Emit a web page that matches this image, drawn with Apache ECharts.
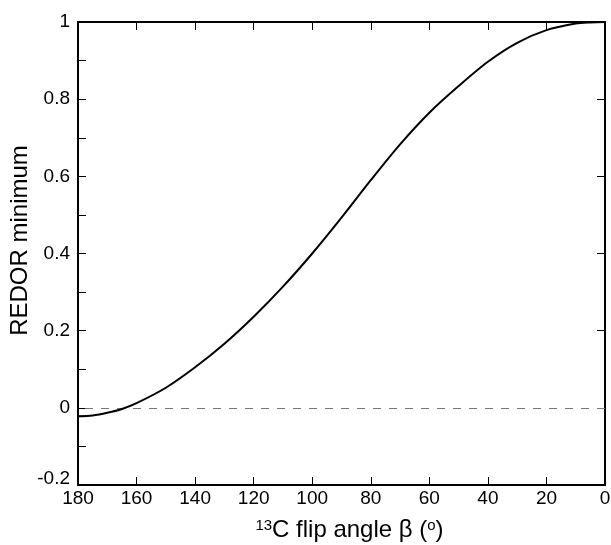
<!DOCTYPE html>
<html>
<head>
<meta charset="utf-8">
<script src="https://cdn.jsdelivr.net/npm/echarts@6/dist/echarts.min.js"></script>
<style>html,body{margin:0;padding:0;background:#fff}#c{width:611px;height:545px}</style>
</head>
<body>
<div id="c"></div>
<script>
var angles = [180,175,170,165,160,150,140,130,120,110,100,90,80,70,60,50,40,30,20,10,5,0];
var redorMin = [-0.022,-0.020,-0.013,-0.003,0.012,0.052,0.105,0.166,0.236,0.314,0.400,0.493,0.590,0.683,0.765,0.834,0.897,0.946,0.979,0.996,0.999,1.0];
var xTicks = [180,160,140,120,100,80,60,40,20,0];
var yTicks = [-0.2,0,0.2,0.4,0.6,0.8,1];
var zeroLine = 0;

var points = angles.map(function(a,i){return [a, redorMin[i]];});
var font = 'Liberation Sans, Arial, Helvetica, sans-serif';
var chart = echarts.init(document.getElementById('c'), null, {renderer:'canvas'});
chart.setOption({
  animation:false,
  grid:{left:78, right:6, top:22, bottom:60, containLabel:false, outerBoundsMode:'none'},
  xAxis:[{
    type:'value', min:0, max:180, interval:20, inverse:true,
    name:'{sup|13}{n|C flip angle β (}{sup|o}{n|)}', nameLocation:'middle', nameGap:33, nameMoveOverlap:false,
    nameTextStyle:{padding:[0,0,0,16], rich:{sup:{fontSize:15, fontFamily:font, color:'#000', verticalAlign:'top'}, n:{fontSize:24, fontFamily:font, color:'#000'}}},
    axisLine:{show:true, onZero:false, lineStyle:{color:'#000', width:2}},
    axisTick:{show:true, inside:true, length:8, lineStyle:{color:'#000', width:1}},
    axisLabel:{show:true, margin:4, fontSize:19, color:'#000', fontFamily:font,
      formatter:function(v){return xTicks.indexOf(v)>=0 ? String(v) : '';}},
    splitLine:{show:false}
  },{
    type:'value', min:0, max:180, interval:20, inverse:true, position:'top',
    axisLine:{show:true, onZero:false, lineStyle:{color:'#000', width:2}},
    axisTick:{show:true, inside:true, length:8, lineStyle:{color:'#000', width:1}},
    axisLabel:{show:false}, splitLine:{show:false}
  }],
  yAxis:[{
    type:'value', min:-0.2, max:1, interval:0.2,
    name:'REDOR minimum', nameLocation:'middle', nameGap:46, nameRotate:90, nameMoveOverlap:false,
    nameTextStyle:{fontSize:24, color:'#000', fontFamily:font, padding:[0,0,0,26]},
    axisLine:{show:true, onZero:false, lineStyle:{color:'#000', width:2}},
    axisTick:{show:true, inside:true, length:8, lineStyle:{color:'#000', width:1}},
    minorTick:{show:true, splitNumber:2, length:8, lineStyle:{color:'#000', width:1}},
    axisLabel:{show:true, margin:8, fontSize:19, color:'#000', fontFamily:font,
      rich:{low:{fontSize:19, color:'#000', fontFamily:font, padding:[0,0,12,0]}},
      formatter:function(v){var r=Math.round(v*10)/10; if(yTicks.indexOf(r)<0) return ''; return r===-0.2 ? '{low|'+r+'}' : String(r);}},
    splitLine:{show:false}
  },{
    type:'value', min:-0.2, max:1, interval:0.2, position:'right',
    axisLine:{show:true, onZero:false, lineStyle:{color:'#000', width:2}},
    axisTick:{show:true, inside:true, length:8, lineStyle:{color:'#000', width:1}},
    axisLabel:{show:false}, splitLine:{show:false}
  }],
  series:[{
    type:'line', data:points, smooth:0.3, showSymbol:false, symbol:'none',
    lineStyle:{color:'#000', width:2}, z:5,
    markLine:{silent:true, symbol:'none', label:{show:false},
      lineStyle:{color:'#777', width:1, type:[8,8]},
      data:[{yAxis:zeroLine}]}
  }]
});
</script>
</body>
</html>
